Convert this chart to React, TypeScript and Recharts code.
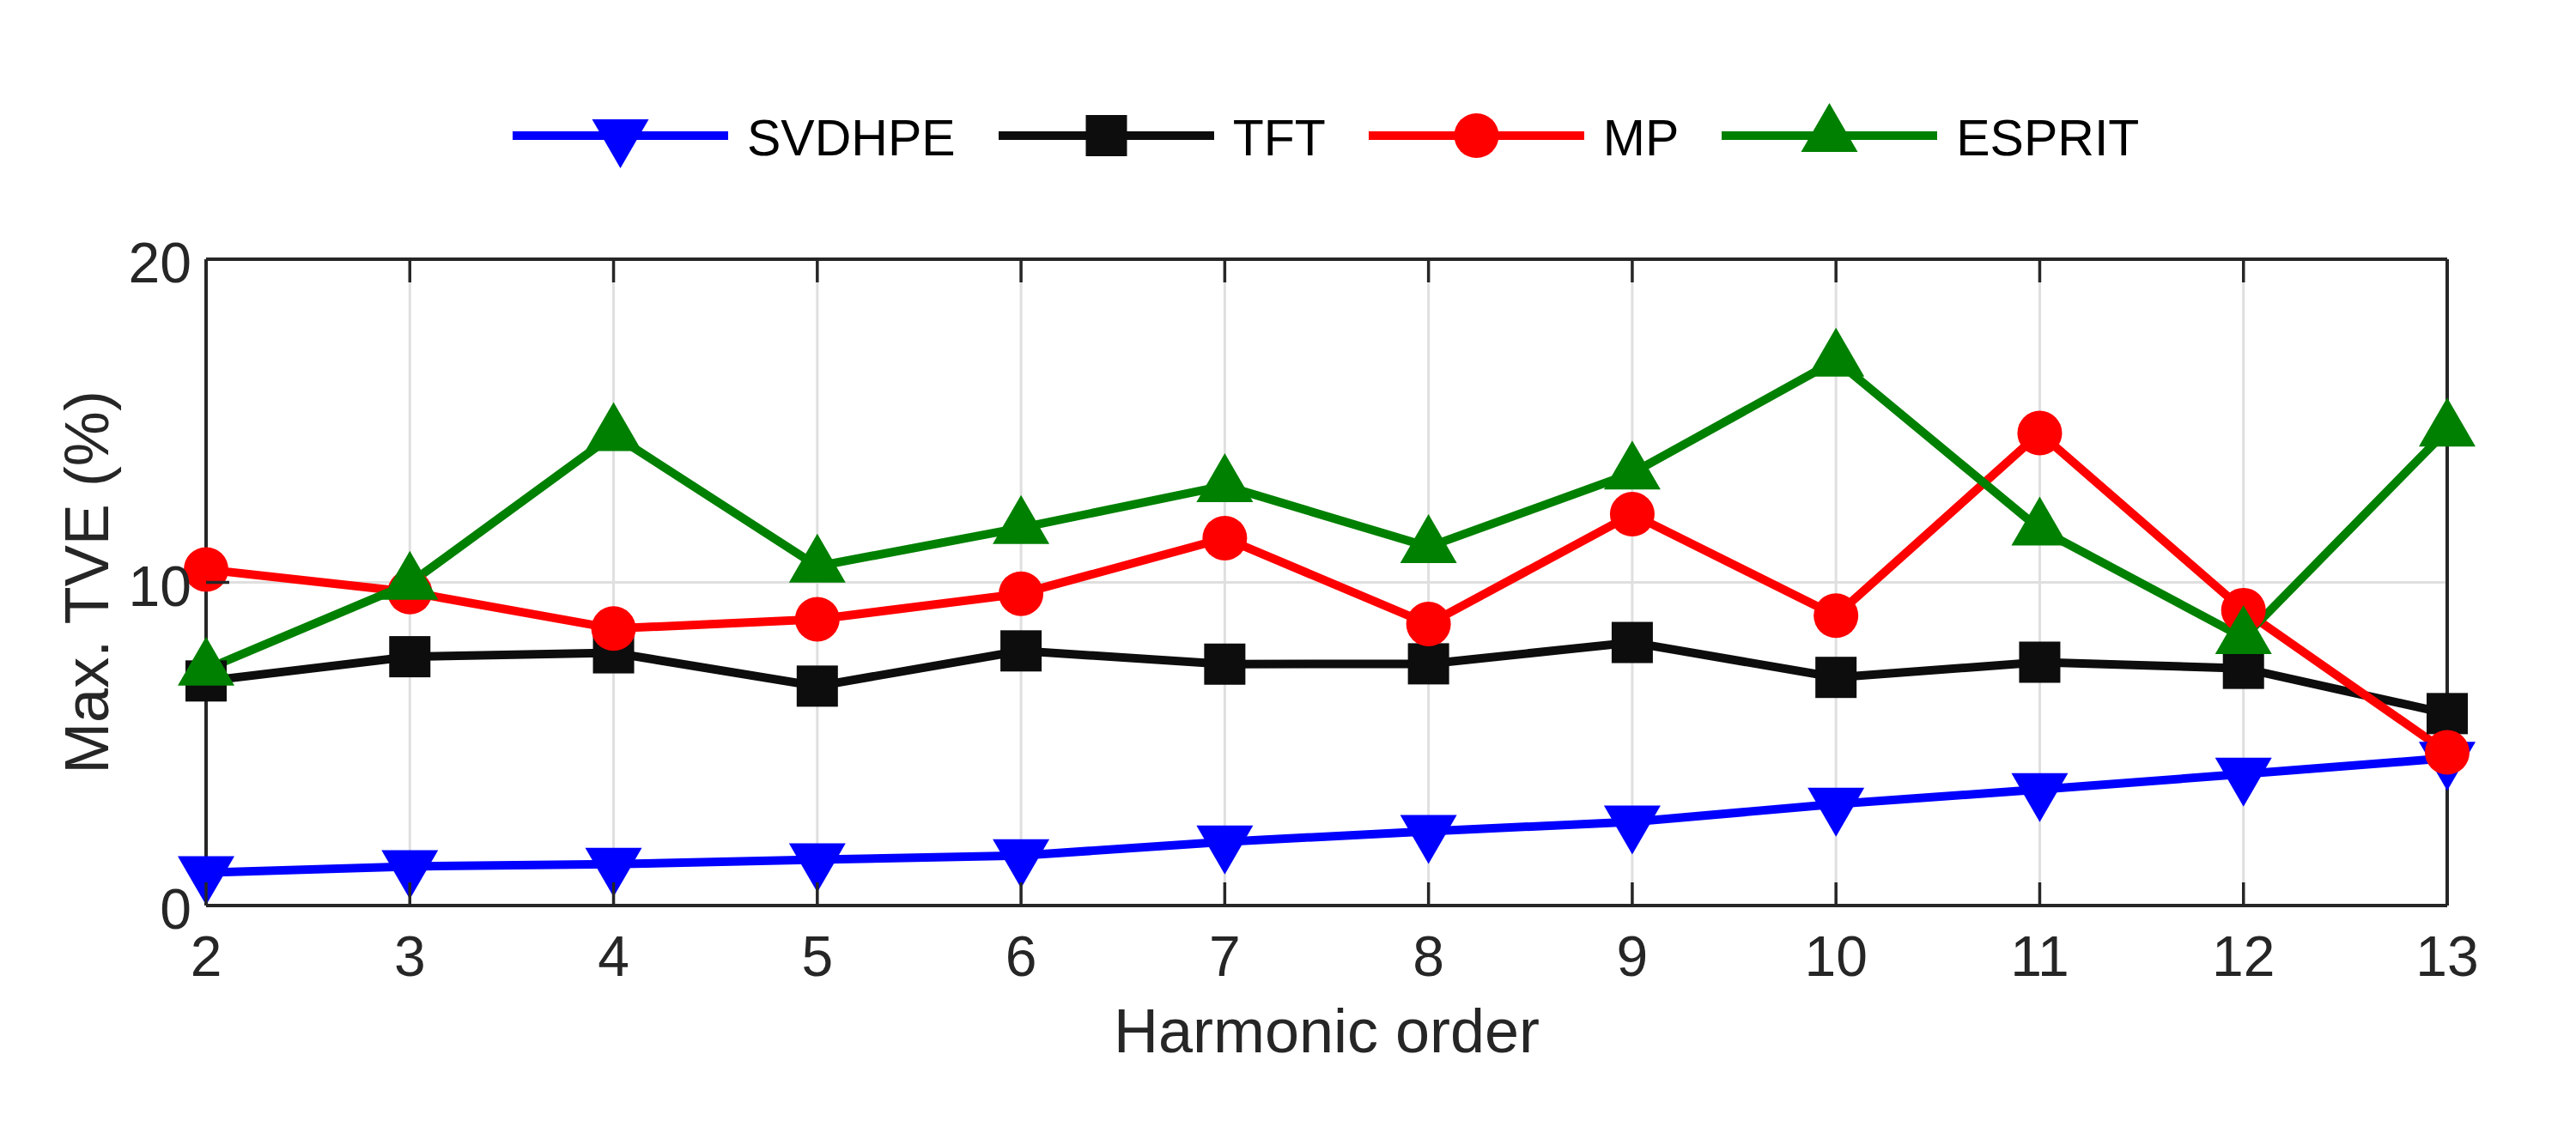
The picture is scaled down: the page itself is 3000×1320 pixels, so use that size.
import React from "react"
import { LineChart, Line, XAxis, YAxis, CartesianGrid, Legend, Label } from "recharts"

// harmonic orders on the x axis
const orders = [2, 3, 4, 5, 6, 7, 8, 9, 10, 11, 12, 13]
const yTicks = [0, 10, 20]

// Max. TVE (%) per method
const svdhpe = [1.02, 1.21, 1.28, 1.42, 1.55, 1.97, 2.3, 2.59, 3.14, 3.59, 4.07, 4.56]
const tft = [6.95, 7.7, 7.82, 6.79, 7.88, 7.47, 7.48, 8.14, 7.06, 7.53, 7.34, 5.94]
const mp = [10.4, 9.7, 8.57, 8.86, 9.65, 11.37, 8.71, 12.11, 8.97, 14.62, 9.14, 4.74]
const esprit = [7.31, 9.97, 14.57, 10.5, 11.69, 12.99, 11.1, 13.38, 16.87, 11.65, 8.29, 14.71]

const FONT = "'Liberation Sans', Arial, Helvetica, sans-serif"
const AXIS = "#262626"
const TICK_LEN = 27

type MarkerKind = "down" | "square" | "circle" | "up"

const series: { key: string; name: string; color: string; marker: MarkerKind }[] = [
  { key: "svdhpe", name: "SVDHPE", color: "#0000ff", marker: "down" },
  { key: "tft", name: "TFT", color: "#0d0d0d", marker: "square" },
  { key: "mp", name: "MP", color: "#ff0000", marker: "circle" },
  { key: "esprit", name: "ESPRIT", color: "#008000", marker: "up" },
]

const data = orders.map((order, i) => ({
  order,
  svdhpe: svdhpe[i],
  tft: tft[i],
  mp: mp[i],
  esprit: esprit[i],
}))

function Marker({ kind, cx, cy, color }: { kind: MarkerKind; cx: number; cy: number; color: string }) {
  if (cx == null || cy == null) return null
  switch (kind) {
    case "down":
      return <polygon points={`${cx - 33},${cy - 19} ${cx + 33},${cy - 19} ${cx},${cy + 38}`} fill={color} />
    case "up":
      return <polygon points={`${cx - 33},${cy + 19} ${cx + 33},${cy + 19} ${cx},${cy - 38}`} fill={color} />
    case "square":
      return <rect x={cx - 24} y={cy - 24} width={48} height={48} fill={color} />
    default:
      return <circle cx={cx} cy={cy} r={26} fill={color} />
  }
}

// MATLAB style ticks: pointing into the plot box
const BottomTick = ({ x, y, payload }: any) => (
  <g>
    <line x1={x} x2={x} y1={y} y2={y - TICK_LEN} stroke={AXIS} strokeWidth={3.5} />
    <text x={x} y={y + 82} textAnchor="middle" fontSize={66} fill={AXIS} fontFamily={FONT}>
      {payload.value}
    </text>
  </g>
)

const TopTick = ({ x, y }: any) => <line x1={x} x2={x} y1={y} y2={y + TICK_LEN} stroke={AXIS} strokeWidth={3.5} />

const LeftTick = ({ x, y, payload }: any) => (
  <g>
    <line x1={x} x2={x + TICK_LEN} y1={y} y2={y} stroke={AXIS} strokeWidth={3.5} />
    <text x={x - 17} y={y + 27} textAnchor="end" fontSize={66} fill={AXIS} fontFamily={FONT}>
      {payload.value}
    </text>
  </g>
)

const RightTick = ({ x, y }: any) => <line x1={x} x2={x - TICK_LEN} y1={y} y2={y} stroke={AXIS} strokeWidth={3.5} />

const renderLegend = () => (
  <div style={{ display: "flex", alignItems: "center", fontFamily: FONT }}>
    {series.map((s) => (
      <div key={s.key} style={{ display: "flex", alignItems: "center", marginRight: 50 }}>
        <svg width={251} height={80}>
          <line x1={0} x2={251} y1={40} y2={40} stroke={s.color} strokeWidth={10} />
          <Marker kind={s.marker} cx={125.5} cy={40} color={s.color} />
        </svg>
        <span style={{ marginLeft: 22, fontSize: 59, color: "#000", position: "relative", top: 3, whiteSpace: "nowrap" }}>
          {s.name}
        </span>
      </div>
    ))}
  </div>
)

export default function App() {
  return (
    <div style={{ position: "absolute", left: 0, top: 0, width: 3000, height: 1320, background: "#fff" }}>
      <LineChart width={3000} height={1320} data={data} margin={{ top: 301, right: 149, bottom: 205, left: 0 }}>
        <CartesianGrid stroke="#dfdfdf" strokeWidth={3} />
        <XAxis
          dataKey="order"
          type="number"
          domain={[2, 13]}
          ticks={orders}
          height={60}
          tickSize={0}
          tickMargin={0}
          tickLine={false}
          tick={<BottomTick />}
          axisLine={{ stroke: AXIS, strokeWidth: 4 }}
          interval={0}
        >
          <Label
            content={({ viewBox }: any) => (
              <text
                x={viewBox.x + viewBox.width / 2}
                y={viewBox.y + 171}
                textAnchor="middle"
                fontSize={72}
                fill={AXIS}
                fontFamily={FONT}
              >
                Harmonic order
              </text>
            )}
          />
        </XAxis>
        <XAxis
          xAxisId="top"
          orientation="top"
          dataKey="order"
          type="number"
          domain={[2, 13]}
          ticks={orders}
          height={1}
          tickSize={0}
          tickMargin={0}
          tickLine={false}
          tick={<TopTick />}
          axisLine={{ stroke: AXIS, strokeWidth: 4 }}
          interval={0}
        />
        <YAxis
          type="number"
          domain={[0, 20]}
          ticks={yTicks}
          width={240}
          tickSize={0}
          tickMargin={0}
          tickLine={false}
          tick={<LeftTick />}
          axisLine={{ stroke: AXIS, strokeWidth: 4 }}
          interval={0}
        >
          <Label
            content={({ viewBox }: any) => {
              const cy = viewBox.y + viewBox.height / 2
              return (
                <text
                  x={126}
                  y={cy}
                  transform={`rotate(-90 126 ${cy})`}
                  textAnchor="middle"
                  fontSize={72}
                  fill={AXIS}
                  fontFamily={FONT}
                >
                  Max. TVE (%)
                </text>
              )
            }}
          />
        </YAxis>
        <YAxis
          yAxisId="right"
          orientation="right"
          type="number"
          domain={[0, 20]}
          ticks={yTicks}
          width={1}
          tickSize={0}
          tickMargin={0}
          tickLine={false}
          tick={<RightTick />}
          axisLine={{ stroke: AXIS, strokeWidth: 4 }}
          interval={0}
        />
        <Legend
          layout="horizontal"
          verticalAlign="middle"
          align="center"
          content={renderLegend}
          wrapperStyle={{ top: 118, left: 597, width: 2100, height: 80 }}
        />
        {series.map((s) => (
          <Line
            key={s.key}
            type="linear"
            dataKey={s.key}
            name={s.name}
            stroke={s.color}
            strokeWidth={10}
            isAnimationActive={false}
            activeDot={false}
            dot={(p: any) => <Marker key={`${s.key}-${p.index}`} kind={s.marker} cx={p.cx} cy={p.cy} color={s.color} />}
          />
        ))}
      </LineChart>
    </div>
  )
}
